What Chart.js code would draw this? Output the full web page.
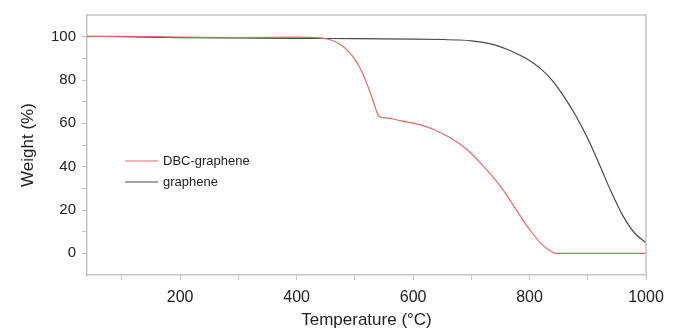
<!DOCTYPE html>
<html>
<head>
<meta charset="utf-8">
<script src="https://cdn.jsdelivr.net/npm/chart.js@4/dist/chart.umd.min.js"></script>
<style>
  html, body { margin: 0; padding: 0; background: #fff; }
  #wrap { width: 675px; height: 335px; }
</style>
</head>
<body>
<div id="wrap"><canvas id="tgaChart" width="675" height="335"></canvas></div>
<script>
// values
const dbcTemp = [40, 100, 200, 300, 400, 430, 456, 475, 491, 500, 510, 520, 530, 542, 555, 580, 600, 620, 640, 660, 690, 720, 750, 780, 800, 820, 835, 845, 900, 1000];
const dbcWeight = [100, 100.2, 99.8, 99.6, 99.8, 99.6, 98.7, 96.5, 92.6, 89.5, 85, 78.8, 71.5, 63.2, 62.5, 61.1, 60.1, 58.7, 56.6, 53.9, 48.5, 40.5, 31, 19, 11, 4.5, 1.2, 0, 0, 0];
const grTemp = [40, 100, 200, 300, 400, 500, 600, 650, 680, 700, 720, 740, 760, 780, 800, 820, 840, 860, 880, 900, 920, 940, 960, 980, 1000];
const grWeight = [100.2, 100, 99.6, 99.4, 99.2, 99.1, 98.9, 98.7, 98.45, 98.1, 97.4, 96.2, 94.3, 91.9, 89, 85, 79.5, 72, 63.3, 53, 41, 28.5, 17.5, 9.5, 4.8];
const seriesNames = ['DBC-graphene', 'graphene'];
const xTicks = [100, 200, 300, 400, 500, 600, 700, 800, 900, 1000];
const yTicks = [0, 10, 20, 30, 40, 50, 60, 70, 80, 90, 100];

const toPoints = (xs, ys) => xs.map((x, i) => ({ x: x, y: ys[i] }));
const axisGray = '#c4c4c4';
const font = 'Liberation Sans, Arial, sans-serif';

// box round the plot area and the legend inside it
const framePlugin = {
    id: 'frame',
    afterDraw(chart) {
        const { ctx, chartArea: a } = chart;
        ctx.save();
        ctx.strokeStyle = axisGray;
        ctx.lineWidth = 1.5;
        ctx.beginPath();
        ctx.moveTo(a.left, a.top);
        ctx.lineTo(a.right, a.top);
        ctx.lineTo(a.right, a.bottom);
        ctx.stroke();

        // legend
        ctx.font = '13px ' + font;
        ctx.textBaseline = 'middle';
        chart.data.datasets.forEach((ds, i) => {
            const y = a.top + 146 + i * 21;
            ctx.strokeStyle = ds.borderColor;
            ctx.lineWidth = 1.2;
            ctx.beginPath();
            ctx.moveTo(a.left + 38, y);
            ctx.lineTo(a.left + 71, y);
            ctx.stroke();
            ctx.fillStyle = '#222';
            ctx.fillText(ds.label, a.left + 76, y);
        });
        ctx.restore();
    }
};

new Chart(document.getElementById('tgaChart').getContext('2d'), {
    type: 'line',
    data: {
        datasets: [{
            label: seriesNames[0],
            data: toPoints(dbcTemp, dbcWeight),
            borderColor: '#e06a6a',
            borderWidth: 1.2,
            pointRadius: 0,
            cubicInterpolationMode: 'monotone',
            fill: false
        }, {
            label: seriesNames[1],
            data: toPoints(grTemp, grWeight),
            borderColor: '#4a4a4a',
            borderWidth: 1.2,
            pointRadius: 0,
            cubicInterpolationMode: 'monotone',
            fill: false
        }]
    },
    options: {
        responsive: false,
        animation: false,
        layout: { padding: { top: 12, right: 29, left: 14, bottom: 0 } },
        plugins: {
            legend: { display: false },
            tooltip: { enabled: false }
        },
        scales: {
            x: {
                type: 'linear',
                min: 40,
                max: 1000,
                afterBuildTicks: (scale) => { scale.ticks = xTicks.map(v => ({ value: v })); },
                afterFit: (scale) => { scale.height = 60; },
                grid: { display: true, drawOnChartArea: false, tickLength: 5, tickColor: axisGray },
                border: { color: axisGray, width: 1.5 },
                ticks: {
                    autoSkip: false,
                    maxRotation: 0,
                    padding: 8,
                    color: '#222',
                    font: { family: font, size: 16 },
                    callback: (v) => (v % 200 === 0 ? v : '')
                },
                title: {
                    display: true,
                    text: 'Temperature (°C)',
                    color: '#222',
                    font: { family: font, size: 17 },
                    padding: { top: 1 }
                }
            },
            y: {
                min: -10,
                max: 110,
                afterBuildTicks: (scale) => { scale.ticks = yTicks.map(v => ({ value: v })); },
                afterFit: (scale) => { scale.width = 73; },
                grid: { display: true, drawOnChartArea: false, tickLength: 5, tickColor: axisGray },
                border: { color: axisGray, width: 1.5 },
                ticks: {
                    autoSkip: false,
                    padding: 6,
                    color: '#222',
                    font: { family: font, size: 15 },
                    callback: (v) => (v % 20 === 0 ? v : '')
                },
                title: {
                    display: true,
                    text: 'Weight (%)',
                    color: '#222',
                    font: { family: font, size: 17 },
                    padding: { bottom: 6 }
                }
            }
        }
    },
    plugins: [framePlugin]
});
</script>
</body>
</html>
